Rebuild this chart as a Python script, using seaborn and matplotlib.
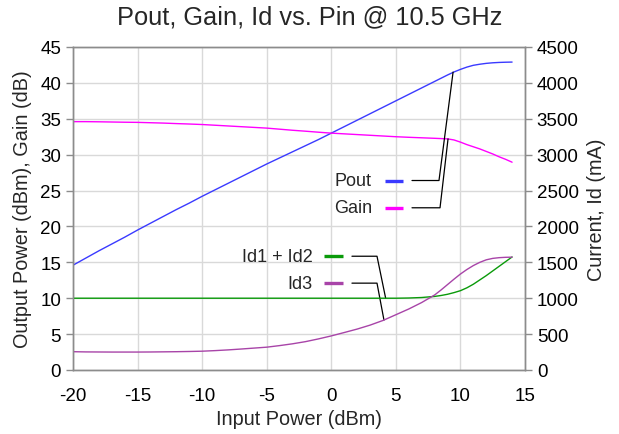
import numpy as np
import pandas as pd
import matplotlib
matplotlib.use("Agg")
import matplotlib.pyplot as plt
import seaborn as sns

# Input drive sweep (dBm): 1 dB steps, then 0.5 dB steps through compression
pin = [-20, -19, -18, -17, -16, -15, -14, -13, -12, -11, -10, -9, -8, -7, -6,
       -5, -4, -3, -2, -1, 0, 1, 2, 3, 4, 5, 6, 7, 8,
       8.5, 9, 9.5, 10, 10.5, 11, 11.5, 12, 12.5, 13, 13.5, 14]

# Output power (dBm)
pout = [14.6, 15.6, 16.6, 17.55, 18.5, 19.5, 20.45, 21.4, 22.35, 23.25, 24.2,
        25.1, 26.0, 26.9, 27.8, 28.7, 29.55, 30.4, 31.25, 32.1, 33.0, 33.9,
        34.8, 35.7, 36.6, 37.5, 38.4, 39.3, 40.2,
        40.65, 41.1, 41.52, 41.88, 42.2, 42.45, 42.6, 42.72, 42.8, 42.85, 42.88, 42.9]

# Gain (dB)
gain = [34.6, 34.6, 34.58, 34.55, 34.52, 34.5, 34.45, 34.4, 34.33, 34.27, 34.2,
        34.1, 34.0, 33.9, 33.8, 33.7, 33.55, 33.4, 33.27, 33.13, 33.0, 32.9,
        32.8, 32.7, 32.6, 32.5, 32.42, 32.35, 32.28,
        32.24, 32.2, 32.05, 31.75, 31.4, 31.1, 30.8, 30.45, 30.1, 29.7, 29.35, 28.95]

# Drain currents (mA)
id12 = [1000, 1000, 1000, 1000, 1000, 1000, 1000, 1000, 1000, 1000, 1000,
        1000, 1000, 1000, 1000, 1000, 1000, 1000, 1000, 1000, 1000, 1000,
        1000, 1000, 1000, 1000, 1003, 1010, 1025,
        1038, 1055, 1078, 1105, 1145, 1195, 1255, 1315, 1380, 1445, 1510, 1575]
id3 = [255, 252, 251, 250, 250, 250, 251, 253, 255, 258, 262, 270, 280, 292,
       305, 318, 340, 365, 395, 433, 475, 522, 570, 625, 690, 770, 850, 940,
       1045, 1115, 1190, 1265, 1337, 1400, 1455, 1500, 1535, 1555, 1565, 1570, 1572]

x_ticks = [-20, -15, -10, -5, 0, 5, 10, 15]
left_ticks = [0, 5, 10, 15, 20, 25, 30, 35, 40, 45]
right_ticks = [0, 500, 1000, 1500, 2000, 2500, 3000, 3500, 4000, 4500]

df = pd.DataFrame({"pin": pin, "pout": pout, "gain": gain, "id12": id12, "id3": id3})

sns.set_style("white")
plt.rcParams["font.family"] = ["Liberation Sans", "DejaVu Sans"]

C_POUT = "#3a3aff"
C_GAIN = "#ff00ff"
C_ID12 = "#0a9a0a"
C_ID3 = "#a844a8"
SPINE = "#8c8c8c"
GRID = "#d9d9d9"

fig = plt.figure(figsize=(6.19, 4.35), dpi=100)
ax = fig.add_axes([73 / 619, 64 / 435, 452 / 619, 323 / 435])
ax2 = ax.twinx()

sns.lineplot(data=df, x="pin", y="pout", ax=ax, color=C_POUT, lw=1.0)
sns.lineplot(data=df, x="pin", y="gain", ax=ax, color=C_GAIN, lw=1.0)
sns.lineplot(data=df, x="pin", y="id12", ax=ax2, color=C_ID12, lw=1.0)
sns.lineplot(data=df, x="pin", y="id3", ax=ax2, color=C_ID3, lw=1.0)

ax.set_xlim(-20, 15)
ax.set_ylim(0, 45)
ax2.set_ylim(0, 4500)
ax.set_xticks(x_ticks)
ax.set_yticks(left_ticks)
ax2.set_yticks(right_ticks)
ax.set_xticklabels([str(v) for v in x_ticks])

ax.grid(True, color=GRID, lw=1.0)
ax.set_axisbelow(True)
ax2.grid(False)

for a in (ax, ax2):
    for s in a.spines.values():
        s.set_color(SPINE)
        s.set_linewidth(1.0)
    a.tick_params(colors=SPINE, labelcolor="black", labelsize=13.5,
                  length=5, width=1.0, direction="out")
ax.tick_params(axis="x", pad=7)

ax.set_xlabel("Input Power (dBm)", fontsize=14.3, labelpad=4)
ax.set_ylabel("Output Power (dBm), Gain (dB)", fontsize=14.3, labelpad=6)
ax2.set_ylabel("Current, Id (mA)", fontsize=14.3, labelpad=6)
fig.text(310 / 619, 1 - 17 / 435, "Pout, Gain, Id vs. Pin @ 10.5 GHz",
         ha="center", va="center", fontsize=18.3)

# Inline labels with colour keys and leader lines (left-axis data units)
def callout(text, y, color, seg, knee, target, text_x):
    ax.text(text_x, y, text, ha="right", va="center", fontsize=13)
    ax.plot(seg, [y, y], color=color, lw=2.4, solid_capstyle="butt")
    ax.plot([knee[0], knee[1], target[0]], [y, y, target[1]],
            color="black", lw=0.9)

callout("Pout", 26.4, C_POUT, [4.16, 5.55], [6.25, 8.34], [9.43, 41.5], 3.15)
callout("Gain", 22.6, C_GAIN, [4.16, 5.55], [6.25, 8.42], [9.04, 32.2], 3.15)
callout("Id1 + Id2", 15.85, C_ID12, [-0.56, 0.91], [1.6, 3.54], [4.21, 10.0], -1.42)
callout("Id3", 12.1, C_ID3, [-0.56, 0.91], [1.6, 3.54], [4.08, 6.95], -1.42)

fig.savefig("out.png", dpi=100)
